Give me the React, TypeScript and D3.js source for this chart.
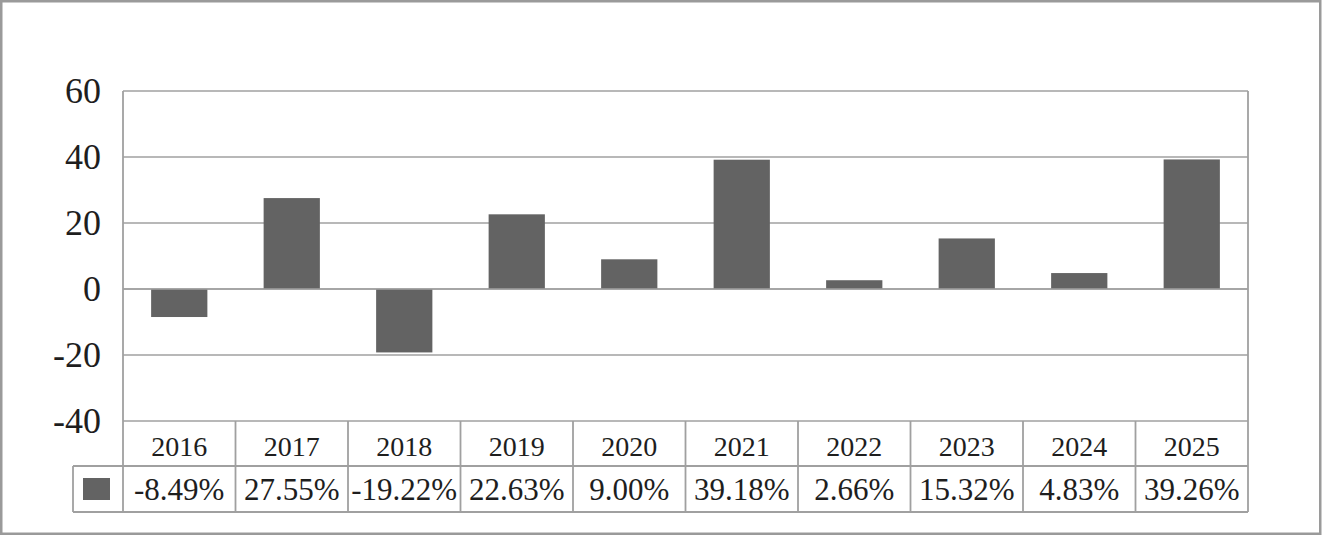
import * as d3 from 'd3';

const YEARS = ['2016', '2017', '2018', '2019', '2020', '2021', '2022', '2023', '2024', '2025'];
const RETURNS = [-8.49, 27.55, -19.22, 22.63, 9.0, 39.18, 2.66, 15.32, 4.83, 39.26];
const Y_TICKS = [-40, -20, 0, 20, 40, 60];

const VW = 1324, VH = 536;
const PL = 123, PR = 1248, PT = 91, PB = 421; // plot box
const ROW1 = 466, ROW2 = 512;                 // data table rows
const LEG_L = 73;
const GRID = '#a0a0a0';
const BAR = '#636363';
const INK = '#1e1e1e';
const FONT = 'Liberation Serif';

export default function App() {
  const x = d3.scaleBand<string>().domain(YEARS).range([PL, PR]).paddingInner(0.5).paddingOuter(0.25);
  const cols = d3.scaleBand<string>().domain(YEARS).range([PL, PR]);
  const y = d3.scaleLinear().domain([-40, 60]).range([PB, PT]);
  const mid = (d: string) => cols(d)! + cols.bandwidth() / 2;

  return (
    <svg
      width={VW}
      height={VH}
      viewBox={`0 0 ${VW} ${VH}`}
      fontFamily={FONT}
      style={{ position: 'absolute', left: 0, top: 0, display: 'block' }}
    >
      {/* outer frame */}
      <rect x={1.25} y={1.25} width={VW - 5} height={VH - 3.5} fill="#fff" stroke="#9a9a9a" strokeWidth={2.5} />

      {/* gridlines */}
      {Y_TICKS.map(t => (
        <line key={t} x1={PL} x2={PR} y1={y(t)} y2={y(t)} stroke={GRID} strokeWidth={1.6} />
      ))}

      {/* y labels */}
      {Y_TICKS.map(t => (
        <text key={t} x={101} y={y(t)} dy="0.34em" textAnchor="end" fontFamily={FONT} fontSize={36} fill={INK}>
          {t}
        </text>
      ))}

      {/* bars */}
      {RETURNS.map((v, i) => (
        <rect key={YEARS[i]} x={x(YEARS[i])} width={x.bandwidth()} y={y(Math.max(0, v))}
          height={Math.abs(y(v) - y(0))} fill={BAR} />
      ))}
      <line x1={PL} x2={PR} y1={y(0)} y2={y(0)} stroke={GRID} strokeWidth={1.6} />

      {/* plot + table borders */}
      <g stroke={GRID} strokeWidth={1.8}>
        <line x1={PL} x2={PL} y1={PT} y2={ROW2} />
        <line x1={PR} x2={PR} y1={PT} y2={ROW2} />
        <line x1={LEG_L} x2={PR} y1={ROW1} y2={ROW1} />
        <line x1={LEG_L} x2={PR} y1={ROW2} y2={ROW2} />
        <line x1={LEG_L} x2={LEG_L} y1={ROW1} y2={ROW2} />
        {YEARS.slice(1).map(d => (
          <line key={d} x1={cols(d)} x2={cols(d)} y1={PB} y2={ROW2} />
        ))}
      </g>

      {/* data table */}
      {YEARS.map(d => (
        <text key={d} x={mid(d)} y={(PB + ROW1) / 2 + 2} dy="0.36em" textAnchor="middle"
          fontFamily={FONT} fontSize={28} fill={INK}>{d}</text>
      ))}
      {RETURNS.map((v, i) => (
        <text key={YEARS[i]} x={mid(YEARS[i])} y={(ROW1 + ROW2) / 2} dy="0.36em" textAnchor="middle"
          fontFamily={FONT} fontSize={31} fill={INK}>{`${v.toFixed(2)}%`}</text>
      ))}

      {/* legend swatch */}
      <rect x={83} y={478} width={27} height={22} fill={BAR} />
    </svg>
  );
}
